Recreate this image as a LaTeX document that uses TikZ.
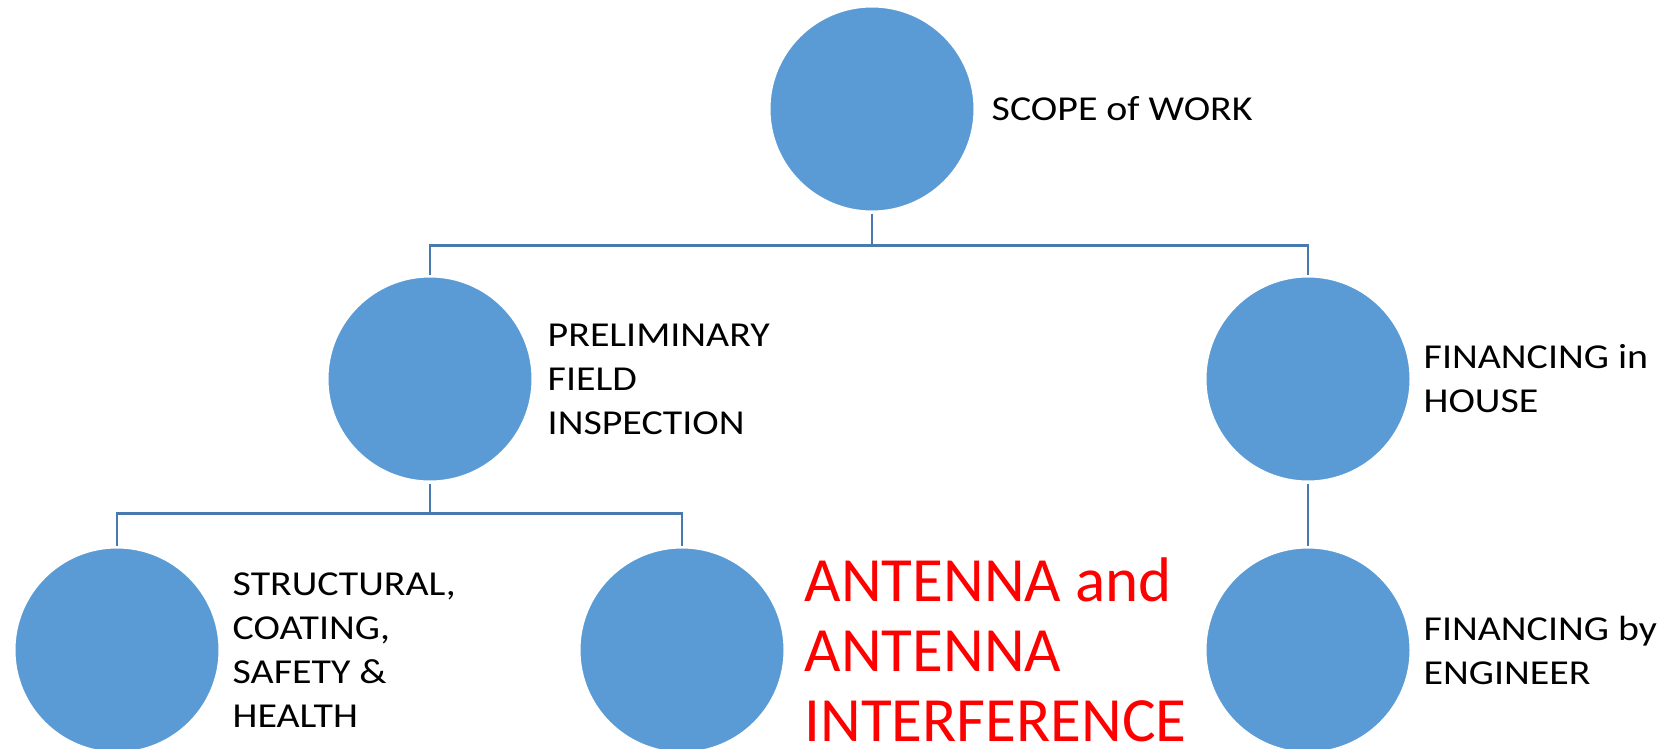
\documentclass[tikz,border=0pt]{standalone}
\usepackage{fontspec}
\setmainfont{Carlito}
\newfontfamily\largo[FakeStretch=1.14]{Carlito}
\usetikzlibrary{positioning}

\definecolor{bolla}{RGB}{91,155,213}
\definecolor{filo}{RGB}{72,122,176}

\tikzset{
  bolla/.style={circle, fill=bolla, draw=white, line width=3pt,
    minimum size=206pt, inner sep=0pt},
  etichetta/.style={align=left, inner sep=0pt,
    font=\largo\fontsize{35}{44}\selectfont},
  evidenza/.style={etichetta, text=red,
    font=\normalfont\fontsize{63}{70}\selectfont},
  filo/.style={draw=filo, line width=2.6pt}
}

\begin{document}
\begin{tikzpicture}[x=1pt,y=-1pt]
  \useasboundingbox (0,0) rectangle (1665,749);

  % cerchi
  \node[bolla] (scope) at (872,109) {};
  \node[bolla] (prelim) at (430,379) {};
  \node[bolla] (house) at (1308,379) {};
  \node[bolla] (struct) at (117,650) {};
  \node[bolla] (antenna) at (682,650) {};
  \node[bolla] (engineer) at (1308,650) {};

  % collegamenti
  \draw[filo] (scope.south) -- ++(0,32) coordinate (bus1);
  \draw[filo] (prelim.north) |- (bus1) -| (house.north);
  \draw[filo] (prelim.south) -- ++(0,30) coordinate (bus2);
  \draw[filo] (struct.north) |- (bus2) -| (antenna.north);
  \draw[filo] (house.south) -- (engineer.north);

  % etichette
  \node[etichetta, right=15pt of scope] (scope text) {SCOPE of WORK};
  \node[etichetta, right=13pt of prelim] (prelim text)
    {PRELIMINARY\\FIELD\\INSPECTION};
  \node[etichetta, right=11pt of house] (house text)
    {FINANCING in\\HOUSE};
  \node[etichetta, right=11pt of struct] (struct text)
    {STRUCTURAL,\\COATING,\\SAFETY \&\\HEALTH};
  \node[evidenza, right=18pt of antenna] (antenna text)
    {ANTENNA and\\ANTENNA\\INTERFERENCE};
  \node[etichetta, right=11pt of engineer] (engineer text)
    {FINANCING by\\ENGINEER};
\end{tikzpicture}
\end{document}
